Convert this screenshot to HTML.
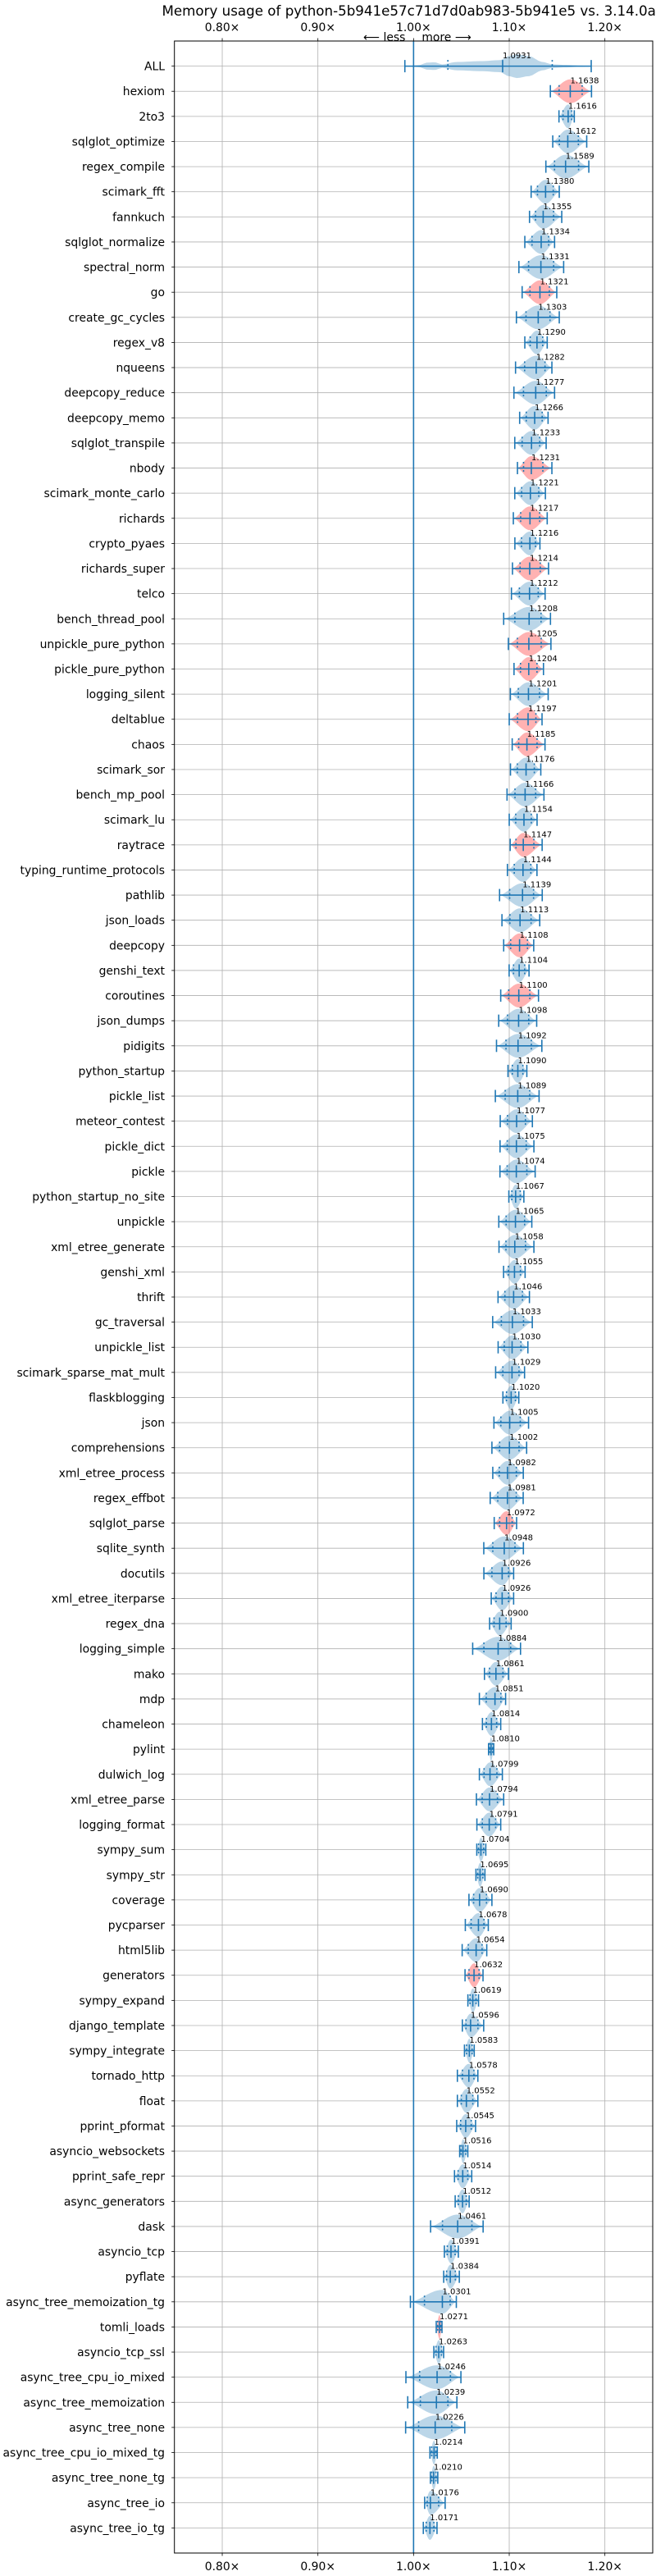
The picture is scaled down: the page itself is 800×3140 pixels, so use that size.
<!DOCTYPE html>
<html>
<head>
<meta charset="utf-8">
<style>
  html,body{margin:0;padding:0;background:#fff;}
  svg{display:block;font-family:"DejaVu Sans","Liberation Sans",sans-serif;}
</style>
</head>
<body>
<svg id="chart" width="800" height="3140" viewBox="0 0 800 3140" xmlns="http://www.w3.org/2000/svg">
  <rect x="0" y="0" width="800" height="3140" fill="#fff"/>
  <text x="504" y="19" font-size="16.7" text-anchor="middle" fill="#000">Memory usage of python-5b941e57c71d7d0ab983-5b941e5 vs. 3.14.0a0</text>
  <g id="grid"></g>
  <g id="violins"></g>
  <g id="axes"></g>
</svg>
<script>
const names = ["ALL","hexiom","2to3","sqlglot_optimize","regex_compile","scimark_fft","fannkuch","sqlglot_normalize","spectral_norm","go","create_gc_cycles","regex_v8","nqueens","deepcopy_reduce","deepcopy_memo","sqlglot_transpile","nbody","scimark_monte_carlo","richards","crypto_pyaes","richards_super","telco","bench_thread_pool","unpickle_pure_python","pickle_pure_python","logging_silent","deltablue","chaos","scimark_sor","bench_mp_pool","scimark_lu","raytrace","typing_runtime_protocols","pathlib","json_loads","deepcopy","genshi_text","coroutines","json_dumps","pidigits","python_startup","pickle_list","meteor_contest","pickle_dict","pickle","python_startup_no_site","unpickle","xml_etree_generate","genshi_xml","thrift","gc_traversal","unpickle_list","scimark_sparse_mat_mult","flaskblogging","json","comprehensions","xml_etree_process","regex_effbot","sqlglot_parse","sqlite_synth","docutils","xml_etree_iterparse","regex_dna","logging_simple","mako","mdp","chameleon","pylint","dulwich_log","xml_etree_parse","logging_format","sympy_sum","sympy_str","coverage","pycparser","html5lib","generators","sympy_expand","django_template","sympy_integrate","tornado_http","float","pprint_pformat","asyncio_websockets","pprint_safe_repr","async_generators","dask","asyncio_tcp","pyflate","async_tree_memoization_tg","tomli_loads","asyncio_tcp_ssl","async_tree_cpu_io_mixed","async_tree_memoization","async_tree_none","async_tree_cpu_io_mixed_tg","async_tree_none_tg","async_tree_io","async_tree_io_tg"];
const medians = [1.0931,1.1638,1.1616,1.1612,1.1589,1.1380,1.1355,1.1334,1.1331,1.1321,1.1303,1.1290,1.1282,1.1277,1.1266,1.1233,1.1231,1.1221,1.1217,1.1216,1.1214,1.1212,1.1208,1.1205,1.1204,1.1201,1.1197,1.1185,1.1176,1.1166,1.1154,1.1147,1.1144,1.1139,1.1113,1.1108,1.1104,1.1100,1.1098,1.1092,1.1090,1.1089,1.1077,1.1075,1.1074,1.1067,1.1065,1.1058,1.1055,1.1046,1.1033,1.1030,1.1029,1.1020,1.1005,1.1002,1.0982,1.0981,1.0972,1.0948,1.0926,1.0926,1.0900,1.0884,1.0861,1.0851,1.0814,1.0810,1.0799,1.0794,1.0791,1.0704,1.0695,1.0690,1.0678,1.0654,1.0632,1.0619,1.0596,1.0583,1.0578,1.0552,1.0545,1.0516,1.0514,1.0512,1.0461,1.0391,1.0384,1.0301,1.0271,1.0263,1.0246,1.0239,1.0226,1.0214,1.0210,1.0176,1.0171];
const mins = [0.9909,1.1430,1.1520,1.1455,1.1383,1.1229,1.1212,1.1163,1.1101,1.1135,1.1075,1.1163,1.1066,1.1049,1.1109,1.1058,1.1086,1.1058,1.1043,1.1059,1.1034,1.1023,1.0942,1.0991,1.1050,1.1012,1.1000,1.1031,1.1013,1.0977,1.1000,1.1010,1.0981,1.0899,1.0924,1.0942,1.0999,1.0911,1.0890,1.0867,1.0987,1.0855,1.0906,1.0904,1.0903,1.0996,1.0891,1.0893,1.0941,1.0883,1.0827,1.0884,1.0858,1.0934,1.0840,1.0819,1.0828,1.0801,1.0843,1.0734,1.0735,1.0812,1.0795,1.0618,1.0741,1.0688,1.0720,1.0784,1.0688,1.0657,1.0662,1.0661,1.0652,1.0579,1.0541,1.0508,1.0538,1.0568,1.0510,1.0532,1.0458,1.0458,1.0451,1.0482,1.0428,1.0435,1.0178,1.0322,1.0315,0.9967,1.0237,1.0212,0.9920,0.9939,0.9917,1.0171,1.0176,1.0116,1.0102];
const maxs = [1.1857,1.1860,1.1680,1.1810,1.1832,1.1523,1.1549,1.1474,1.1569,1.1497,1.1523,1.1397,1.1446,1.1474,1.1406,1.1386,1.1446,1.1378,1.1397,1.1321,1.1411,1.1375,1.1431,1.1436,1.1358,1.1407,1.1343,1.1374,1.1330,1.1363,1.1291,1.1344,1.1290,1.1345,1.1319,1.1256,1.1207,1.1306,1.1287,1.1341,1.1184,1.1312,1.1242,1.1258,1.1271,1.1153,1.1236,1.1258,1.1166,1.1211,1.1241,1.1195,1.1160,1.1100,1.1202,1.1182,1.1147,1.1146,1.1077,1.1148,1.1046,1.1046,1.1020,1.1118,1.0992,1.0962,1.0911,1.0838,1.0928,1.0942,1.0911,1.0755,1.0746,1.0819,1.0781,1.0765,1.0726,1.0679,1.0733,1.0634,1.0672,1.0672,1.0648,1.0567,1.0608,1.0581,1.0727,1.0468,1.0478,1.0447,1.0297,1.0314,1.0495,1.0453,1.0535,1.0248,1.0253,1.0330,1.0245];
const significant = ["hexiom","go","nbody","richards","richards_super","unpickle_pure_python","pickle_pure_python","deltablue","chaos","raytrace","deepcopy","coroutines","sqlglot_parse","generators","tomli_loads"];
const allX = [0.991,1.005,1.015,1.022,1.030,1.045,1.070,1.090,1.100,1.108,1.120,1.135,1.145,1.160,1.175,1.186];
const allD = [0,0.08,0.30,0.32,0.15,0.35,0.42,0.50,0.85,1.0,0.85,0.35,0.15,0.10,0.05,0];
const xTicks = [0.8,0.9,1.0,1.1,1.2];
const xTickLabels = ["0.80×","0.90×","1.00×","1.10×","1.20×"];

const NS = "http://www.w3.org/2000/svg";
const PL = 212.7, PR = 796, PT = 50, PB = 3112;
const XMIN = 0.75, XMAX = 1.25;
function xs(v){ return PL + (v - XMIN) / (XMAX - XMIN) * (PR - PL); }
function ys(i){ return PT + (i + 1) * (PB - PT) / (names.length + 1); }
function mk(tag, attrs, parent){
  const el = document.createElementNS(NS, tag);
  for (const k in attrs) el.setAttribute(k, attrs[k]);
  parent.appendChild(el);
  return el;
}
const grid = document.getElementById('grid');
const vg = document.getElementById('violins');
const ax = document.getElementById('axes');

// vertical grid
xTicks.forEach((t, k) => {
  const l = mk('line', {x1: xs(t), x2: xs(t), y1: PT, y2: PB, stroke: '#b0b0b0', 'stroke-width': 0.8}, grid);
  
  
});
// horizontal grid + y labels
names.forEach((n, i) => {
  const y = ys(i);
  const l = mk('line', {x1: PL, x2: PR, y1: y, y2: y, stroke: '#b0b0b0', 'stroke-width': 0.8}, grid);
  
  
  const tk = mk('line', {x1: PL - 3.5, x2: PL, y1: y, y2: y, stroke: '#000', 'stroke-width': 0.8}, ax);
  
  
  const tx = mk('text', {x: 201, y: y + 5, 'font-size': 13.9, 'text-anchor': 'end', fill: '#000'}, ax);
  tx.textContent = n;
  
  
});

// baseline at 1.00
const base = mk('line', {x1: xs(1), x2: xs(1), y1: PT, y2: PB, stroke: '#1f77b4', 'stroke-width': 1.6}, grid);



const H = 14.5, CAP = 7.5;
function shapeVal(t, med, lo, hi){
  let u;
  if (t <= med) u = (med - t) / Math.max(med - lo, 1e-6);
  else u = (t - med) / Math.max(hi - med, 1e-6);
  u = Math.min(1, Math.max(0, u));
  return Math.pow((1 + Math.cos(Math.PI * u)) / 2, 0.8);
}
function allShape(t){
  for (let k = 0; k < allX.length - 1; k++){
    if (t >= allX[k] && t <= allX[k+1]){
      const f = (t - allX[k]) / (allX[k+1] - allX[k]);
      const s = (1 - Math.cos(Math.PI * f)) / 2;
      return allD[k] + (allD[k+1] - allD[k]) * s;
    }
  }
  return 0;
}

names.forEach((n, i) => {
  const y = ys(i), med = medians[i], lo = mins[i], hi = maxs[i];
  const red = significant.indexOf(n) >= 0;
  const N = 60, top = [], bot = [];
  for (let k = 0; k <= N; k++){
    const t = lo + (hi - lo) * k / N;
    const h = H * (i === 0 ? allShape(t) : shapeVal(t, med, lo, hi));
    top.push(xs(t).toFixed(2) + ',' + (y - h).toFixed(2));
    bot.unshift(xs(t).toFixed(2) + ',' + (y + h).toFixed(2));
  }
  const g = mk('g', {}, vg);
  
  
  const body = mk('polygon', {points: top.concat(bot).join(' '), fill: red ? '#ff0000' : '#1f77b4', 'fill-opacity': 0.3}, g);
  
  
  const stroke = {stroke: '#1f77b4', 'stroke-width': 1.6};
  const w = mk('line', Object.assign({x1: xs(lo), x2: xs(hi), y1: y, y2: y}, stroke), g);
  
  
  [lo, hi, med].forEach(v => {
    const c = mk('line', Object.assign({x1: xs(v), x2: xs(v), y1: y - CAP, y2: y + CAP}, stroke), g);
    
    
  });
  const q1 = med - 0.56 * (med - lo), q3 = med + 0.56 * (hi - med);
  [q1, q3].forEach(v => {
    const q = mk('line', {x1: xs(v), x2: xs(v), y1: y - CAP, y2: y + CAP, stroke: '#1f77b4', 'stroke-width': 1.6, 'stroke-dasharray': '2,3'}, g);
    
    
  });
  const lab = mk('text', {x: xs(med), y: y - 9.5, 'font-size': 10, fill: '#000'}, g);
  lab.textContent = med.toFixed(4);
  
  
});

// frame
const frame = mk('rect', {x: PL, y: PT, width: PR - PL, height: PB - PT, fill: 'none', stroke: '#000', 'stroke-width': 1}, ax);



// x ticks top and bottom
xTicks.forEach((t, k) => {
  const tt = mk('line', {x1: xs(t), x2: xs(t), y1: PT - 3.5, y2: PT, stroke: '#000', 'stroke-width': 0.8}, ax);
  
  
  const tb = mk('line', {x1: xs(t), x2: xs(t), y1: PB, y2: PB + 3.5, stroke: '#000', 'stroke-width': 0.8}, ax);
  
  
  const lt = mk('text', {x: xs(t), y: 38, 'font-size': 13.9, 'text-anchor': 'middle', fill: '#000'}, ax);
  lt.textContent = xTickLabels[k];
  
  
  const lb = mk('text', {x: xs(t), y: 3133, 'font-size': 13.9, 'text-anchor': 'middle', fill: '#000'}, ax);
  lb.textContent = xTickLabels[k];
  
  
});

// less / more annotation
const less = mk('text', {x: xs(1) - 10, y: 50, 'font-size': 13.9, 'text-anchor': 'end', fill: '#000'}, ax);
less.textContent = '⟵ less';


const more = mk('text', {x: xs(1) + 10, y: 50, 'font-size': 13.9, 'text-anchor': 'start', fill: '#000'}, ax);
more.textContent = 'more ⟶';


</script>
</body>
</html>
